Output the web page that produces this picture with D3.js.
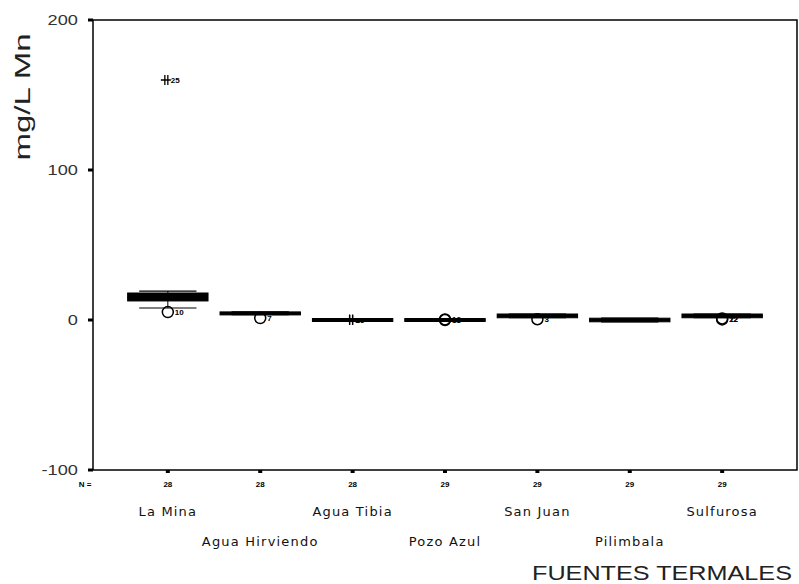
<!DOCTYPE html>
<html>
<head>
<meta charset="utf-8">
<script src="https://cdn.jsdelivr.net/npm/d3@7"></script>
<style>
  body { margin: 0; background: #fff; }
  svg { display: block; }
  text { font-family: "Liberation Sans", Arial, sans-serif; fill: #000; }
</style>
</head>
<body>
<div id="chart"></div>
<script>
// fuentes termales, Mn (mg/L)
var categories = ["La Mina", "Agua Hirviendo", "Agua Tibia", "Pozo Azul", "San Juan", "Pilimbala", "Sulfurosa"];
var nCounts = [28, 28, 28, 29, 29, 29, 29];
var whiskerLow = [8, 3.6, -1, -1, 1.5, -1.2, 1.5];
var q1 = [12.7, 3.6, -1, -1, 1.5, -1.2, 1.5];
var median = [15, 4.5, 0, 0, 2.7, 0, 2.7];
var q3 = [18, 5.4, 1, 1, 4, 1.2, 4];
var whiskerHigh = [19.3, 5.4, 1, 1, 4, 1.2, 4];

// outliers (o) and extremes (*)
var outCat = ["La Mina", "La Mina", "Agua Hirviendo", "Agua Tibia", "Agua Tibia", "Pozo Azul", "Pozo Azul", "San Juan", "Sulfurosa", "Sulfurosa"];
var outVal = [5.3, 160, 1.3, 0, 0.3, 0, 0.4, 0.5, 1, 0.4];
var outType = ["o", "*", "o", "*", "*", "o", "o", "o", "o", "o"];
var outLabel = ["10", "25", "7", "26", "17", "13", "19", "3", "12", "22"];

var yTicks = [-100, 0, 100, 200];

var width = 799, height = 584;
var svg = d3.select("#chart").append("svg")
    .attr("width", width)
    .attr("height", height);

var plotL = 93, plotR = 797, plotT = 20, plotB = 470;

var x = d3.scalePoint()
    .domain(categories)
    .range([plotL, plotR])
    .padding(0.81);

var y = d3.scaleLinear()
    .domain([-100, 200])
    .range([plotB, plotT]);

var step = x.step();
var boxW = step * 0.87, capW = step * 0.62;

// stretch helper: SPSS text looks widened
function stretch(sel, k) {
  sel.each(function() {
    var w = this.getComputedTextLength();
    d3.select(this).attr("textLength", w * k).attr("lengthAdjust", "spacingAndGlyphs");
  });
}

// frame
svg.append("rect")
    .attr("x", plotL).attr("y", plotT)
    .attr("width", plotR - plotL).attr("height", plotB - plotT)
    .attr("fill", "none").attr("stroke", "#000").attr("stroke-width", 1.5);

// y ticks
var yt = svg.append("g");
yt.selectAll("line").data(yTicks).enter().append("line")
    .attr("x1", plotL - 5).attr("x2", plotL)
    .attr("y1", function(d) { return y(d); })
    .attr("y2", function(d) { return y(d); })
    .attr("stroke", "#000").attr("stroke-width", 3);
yt.selectAll("text").data(yTicks).enter().append("text")
    .attr("x", plotL - 15)
    .attr("y", function(d) { return y(d) + 5; })
    .attr("text-anchor", "end")
    .style("font-size", "14px")
    .style("fill", "#333")
    .text(function(d) { return d; })
    .call(stretch, 1.3);

// x ticks
svg.selectAll(".xt").data(categories).enter().append("line")
    .attr("class", "xt")
    .attr("x1", function(d) { return x(d); })
    .attr("x2", function(d) { return x(d); })
    .attr("y1", plotB).attr("y2", plotB + 3)
    .attr("stroke", "#000").attr("stroke-width", 4);

// N labels
svg.append("text")
    .attr("x", 85).attr("y", 487)
    .attr("text-anchor", "middle")
    .style("font-size", "8px").style("font-weight", "bold")
    .text("N =");
svg.selectAll(".nl").data(categories).enter().append("text")
    .attr("class", "nl")
    .attr("x", function(d) { return x(d); })
    .attr("y", 487)
    .attr("text-anchor", "middle")
    .style("font-size", "8px").style("font-weight", "bold")
    .text(function(d, i) { return nCounts[i]; });

// category labels, staggered
svg.selectAll(".cl").data(categories).enter().append("text")
    .attr("class", "cl")
    .attr("x", function(d) { return x(d); })
    .attr("y", function(d, i) { return i % 2 === 0 ? 516 : 546; })
    .attr("text-anchor", "middle")
    .style("font-family", "'DejaVu Sans', sans-serif")
    .style("font-size", "13px")
    .style("letter-spacing", "1.2px")
    .style("fill", "#111")
    .text(function(d) { return d; });

// axis titles
svg.append("text")
    .attr("x", 792).attr("y", 580)
    .attr("text-anchor", "end")
    .style("font-size", "21px")
    .style("fill", "#222")
    .text("FUENTES TERMALES")
    .call(stretch, 1.2);

svg.append("text")
    .attr("transform", "translate(30,97) rotate(-90)")
    .attr("text-anchor", "middle")
    .style("font-size", "22px")
    .style("fill", "#222")
    .text("mg/L Mn")
    .call(stretch, 1.5);

// boxes
var g = svg.append("g");
categories.forEach(function(c, i) {
  var cx = x(c);
  g.append("line")
      .attr("x1", cx).attr("x2", cx)
      .attr("y1", y(whiskerHigh[i])).attr("y2", y(whiskerLow[i]))
      .attr("stroke", "#000").attr("stroke-width", 1);
  [whiskerHigh[i], whiskerLow[i]].forEach(function(v) {
    g.append("line")
        .attr("x1", cx - capW / 2).attr("x2", cx + capW / 2)
        .attr("y1", y(v)).attr("y2", y(v))
        .attr("stroke", "#000").attr("stroke-width", 1.2);
  });
  g.append("rect")
      .attr("x", cx - boxW / 2)
      .attr("y", y(q3[i]))
      .attr("width", boxW)
      .attr("height", Math.max(3, y(q1[i]) - y(q3[i])))
      .attr("fill", "#000").attr("stroke", "#000").attr("stroke-width", 1);
  g.append("line")
      .attr("x1", cx - boxW / 2).attr("x2", cx + boxW / 2)
      .attr("y1", y(median[i])).attr("y2", y(median[i]))
      .attr("stroke", "#000").attr("stroke-width", 2);
});

// outliers and extremes
outVal.forEach(function(v, i) {
  var cx = x(outCat[i]), cy = y(v);
  if (outType[i] === "o") {
    g.append("circle")
        .attr("cx", cx).attr("cy", cy).attr("r", 5.5)
        .attr("fill", "none").attr("stroke", "#000").attr("stroke-width", 1.5);
  } else {
    g.append("path")
        .attr("d", "M" + (cx - 7) + "," + cy + "H" + (cx + 3) +
                   "M" + (cx - 3) + "," + (cy - 5) + "V" + (cy + 5) +
                   "M" + (cx) + "," + (cy - 5) + "V" + (cy + 5))
        .attr("fill", "none").attr("stroke", "#000").attr("stroke-width", 1.3);
  }
  g.append("text")
      .attr("x", cx + (outType[i] === "o" ? 7 : 3))
      .attr("y", cy + 3)
      .style("font-size", "8px").style("font-weight", "bold")
      .text(outLabel[i]);
});
</script>
</body>
</html>
